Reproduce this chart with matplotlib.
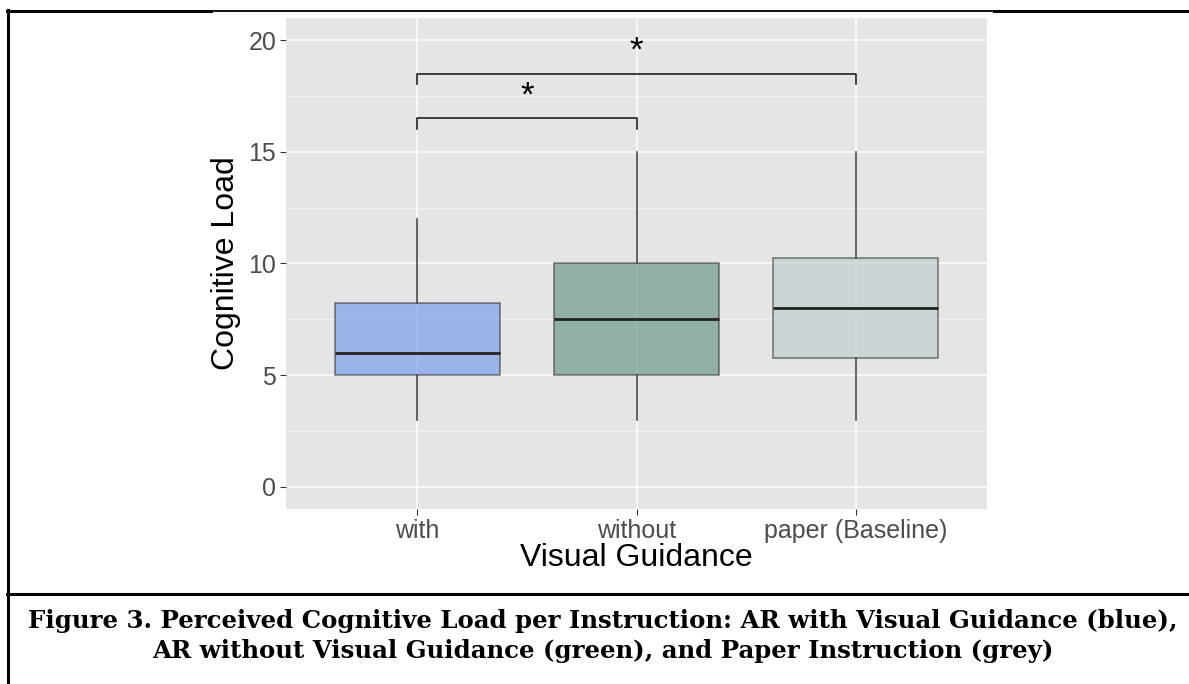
import numpy as np
import matplotlib.pyplot as plt
from matplotlib.lines import Line2D

plt.rcParams['font.family'] = ['Liberation Sans', 'DejaVu Sans']

# box statistics
groups = ["with", "without", "paper (Baseline)"]
whislo = [3, 3, 3]
q1 = [5, 5, 5.75]
med = [6, 7.5, 8]
q3 = [8.25, 10, 10.25]
whishi = [12, 15, 15]
fills = ["#6a92ea", "#568d77", "#bac9c9"]

# significance brackets: (group a, group b, height)
sig_pairs = [(0, 1, 16.5), (0, 2, 18.5)]
sig_labels = ["*", "*"]

caption = ("Figure 3. Perceived Cognitive Load per Instruction: AR with Visual Guidance (blue),\n"
           "AR without Visual Guidance (green), and Paper Instruction (grey)")

W, H = 1189, 684
fig = plt.figure(figsize=(W / 100, H / 100), dpi=100)
ax = fig.add_axes([286 / W, 1 - 509 / H, (987 - 286) / W, (509 - 18) / H])

ax.set_facecolor("#e5e5e5")
for sp in ax.spines.values():
    sp.set_visible(False)

pos = np.arange(1, len(groups) + 1)
stats = []
for i, g in enumerate(groups):
    stats.append(dict(label=g, whislo=whislo[i], q1=q1[i], med=med[i],
                      q3=q3[i], whishi=whishi[i], fliers=[]))

bp = ax.bxp(stats, positions=pos, widths=0.75, patch_artist=True,
            showcaps=False, showfliers=False, zorder=3,
            boxprops=dict(edgecolor="#333333", linewidth=1.1),
            whiskerprops=dict(color="#3a3a3a", linewidth=1.1),
            medianprops=dict(color="#222222", linewidth=2.0))
for patch, c in zip(bp["boxes"], fills):
    patch.set_facecolor(c)
    patch.set_alpha(0.6)
    patch.set_edgecolor((0.15, 0.15, 0.15, 0.85))

# grid like ggplot
ax.set_xlim(0.4, 3.6)
ax.set_ylim(-1, 21)
ax.set_yticks([0, 5, 10, 15, 20])
ax.set_yticks([2.5, 7.5, 12.5, 17.5], minor=True)
ax.set_xticks(pos)
ax.set_xticklabels(groups)
ax.grid(True, which="major", color="white", linewidth=1.1, zorder=0)
ax.grid(True, which="minor", axis="y", color="white", linewidth=0.5, alpha=0.7, zorder=0)
ax.set_axisbelow(True)
ax.tick_params(axis="both", which="major", length=4, width=0.8, color="#333333",
               labelsize=18, labelcolor="#4d4d4d", pad=3)
ax.tick_params(axis="y", which="minor", length=0)

ax.set_xlabel("Visual Guidance", fontsize=23, color="black", labelpad=0)
ax.set_ylabel("Cognitive Load", fontsize=23, color="black", labelpad=5)

# significance brackets
for (a, b, h), lab in zip(sig_pairs, sig_labels):
    xa, xb = pos[a], pos[b]
    ax.plot([xa, xa, xb, xb], [h - 0.47, h, h, h - 0.47], color="#222222",
            linewidth=1.2, zorder=4)
    ax.text((xa + xb) / 2, h + 1.0, lab, ha="center", va="center",
            fontsize=25, color="black", zorder=5)

# page frame around figure and caption
def frame(x0, y0, x1, y1, lw):
    fig.add_artist(Line2D([x0 / W, x1 / W], [1 - y0 / H, 1 - y1 / H],
                          color="black", linewidth=lw))

frame(7, 11, 211, 11, 2.2)
frame(211, 11, 994, 11, 1.3)
frame(994, 11, W, 11, 2.2)
frame(8, 10, 8, H, 2.2)
frame(7, 594, W, 594, 2.2)

fig.text(603 / W, 1 - 636 / H, caption, ha="center", va="center",
         fontsize=17.6, fontweight="bold", family="DejaVu Serif",
         linespacing=1.32)

fig.savefig("out.png", dpi=100)
